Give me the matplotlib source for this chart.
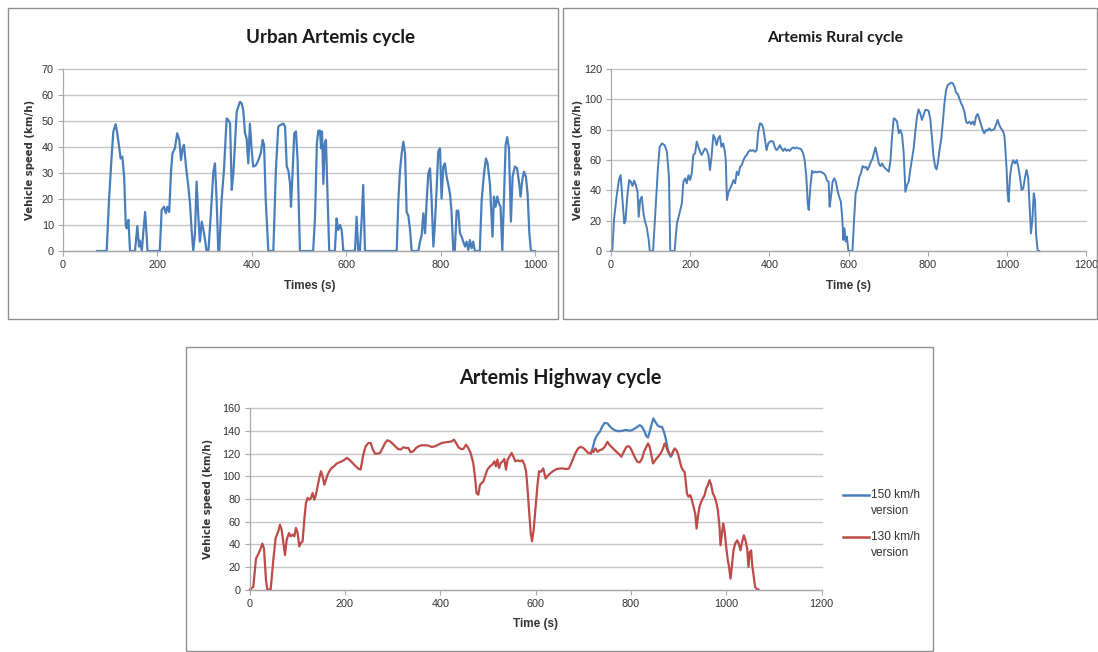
import matplotlib
matplotlib.use("Agg")
import matplotlib.pyplot as plt
from matplotlib.patches import Rectangle
from matplotlib.lines import Line2D
from matplotlib import font_manager

# ---------------- data ----------------
urban_t = [72, 92.5, 97.5, 103, 106.6, 111.5, 115, 119, 122, 125.7, 129.5, 133, 135, 138.6, 142,
           152.5, 157.5, 161, 163, 167, 170, 174, 177, 179, 205, 209, 214, 218, 221, 225, 229, 232,
           237, 242, 246.4, 250, 253.5, 256.3, 260.6, 265.5, 269, 272.5, 276, 279.6, 283, 286.7, 290,
           294, 297.5, 301, 304, 308, 311.5, 315, 318.5, 322, 325.5, 329, 331, 336, 341, 346.7, 350,
           354, 357.5, 361, 364.4, 368, 371.5, 375, 378.5, 382, 385.6, 389, 392.6, 396, 399.7, 403,
           409, 414, 419, 423, 426, 429.5, 435, 445.6, 451, 456, 461, 467, 470.5, 474, 477.4, 481,
           483, 486.6, 490, 493.6, 497, 502, 530, 534, 537.8, 541, 544.5, 546.6, 548.7, 551.6, 554.5,
           557, 560, 564, 576, 579.6, 583, 587, 590.4, 594, 618.6, 622, 625.6, 629, 633, 636, 639.8,
           707, 710.5, 714, 717.6, 721, 724.7, 728, 731.6, 735, 738.7, 752.8, 756.4, 760, 763.4, 767,
           770.6, 774, 777.6, 781, 784.7, 788, 791.8, 795, 798.7, 802, 805.8, 809, 812.7, 816, 819.8,
           823, 826.9, 830, 834, 837.6, 841, 844.6, 848, 851.7, 855, 858.7, 862, 865.7, 869, 872.8,
           883, 887, 892, 896, 899.6, 904.5, 908, 910, 913, 916.5, 920, 923.6, 927, 930.7, 934, 937.8,
           941, 944.8, 949, 952.5, 957.5, 962, 966.6, 969.4, 973, 976.5, 980.7, 984.3, 988, 991.5, 1000]
urban_v = [0, 0, 19.6, 36.3, 45.9, 48.8, 45.3, 40, 35.6, 36.3, 28.6, 10, 8.7, 12, 0,
           0, 9.6, 1.7, 4, 0, 6.8, 15, 6.8, 0, 0, 15.8, 17, 14.5, 17, 15, 31, 37.6,
           39.5, 45.3, 42.7, 35, 39.5, 40.8, 32.5, 24.8, 18.3, 8.1, 0, 6.8, 26.7, 13.2, 3.6,
           11.3, 8.1, 4.3, 0, 0, 9.4, 19.6, 30.5, 33.7, 19.6, 0, 0, 19.6, 31.1, 51, 50.4,
           49, 23.5, 30, 41.4, 53.6, 55.6, 57.4, 56.8, 54.2, 45.3, 43.3, 33.7, 49, 38.8, 32.5,
           33, 35, 37.6, 42.7, 40.8, 19.6, 0, 0, 31, 47.8, 48.5, 49, 47.8, 32.5, 31, 26,
           17, 31, 45.3, 46, 35, 0, 0, 13.2, 41.4, 46.3, 46.3, 39.5, 46, 25.8, 41.4,
           42.7, 24.8, 0, 0, 12.5, 8.1, 10, 8.1, 0, 0, 13.2, 0, 0, 13, 25.4, 0,
           0, 19.6, 31, 37.6, 42, 37.6, 15, 13.6, 8.7, 0, 0, 3.6, 6.2, 14.5, 6.8,
           19.6, 29.9, 31.8, 19.6, 1.7, 10.8, 24.8, 38.2, 39.5, 20.2, 32.5, 33.7, 28.6, 25.8, 22,
           15.5, 0, 0, 15.5, 15.5, 6.8, 5.5, 3.6, 1.7, 3.6, 0.4, 4.2, 1, 3.6, 0,
           0, 19.6, 29.9, 35.6, 33.7, 25.8, 13.2, 5.5, 20.9, 17, 20.9, 18.3, 17, 0, 19.6, 40.8,
           43.8, 39.5, 11.3, 28.6, 32.5, 31.8, 25.8, 20.9, 27.3, 30.5, 28.6, 22, 6.8, 0, 0]

rural_t = [0, 3.3, 7.5, 14, 20, 24.3, 28.4, 33.5, 36.8, 41, 46, 50, 54.4, 58.5, 62.7, 67, 70, 73.6,
           77.8, 82, 86, 90, 95.3, 98, 106.3, 110.4, 114.6, 118.8, 123, 128.8, 135.5, 141.3, 146.4,
           149.7, 160.6, 166.5, 173, 179, 183, 187.4, 191.5, 195.7, 199.9, 204, 208, 212.5, 216.6,
           220.8, 225, 229, 233, 237.6, 241.7, 246, 250, 254, 258.5, 262.6, 266.8, 271, 275, 279,
           283.5, 287.7, 290, 292.8, 297, 301, 305, 309.5, 313.6, 317.8, 322, 326, 330.4, 334.6,
           338.8, 343, 347, 351.3, 355.5, 359.7, 363.8, 368, 372, 376.4, 380.6, 384.7, 389, 393,
           397.3, 401.5, 405.7, 410, 414, 418, 422.5, 426.6, 430.8, 435, 439, 443.3, 447.5, 451.7,
           456, 460, 464.3, 468.5, 472.6, 476.8, 481, 485, 489.3, 493.5, 497, 499.5, 503.7, 507.9,
           512, 516, 520.4, 524.6, 528.8, 533, 537, 541.4, 545.6, 549.8, 552.3, 555.7, 559.8, 564,
           568, 572, 576.4, 580.6, 584, 587, 589.8, 593, 595.6, 600, 610, 614, 618, 623, 627.4,
           631.5, 635.7, 640, 644, 648, 652.5, 656.6, 660.8, 665, 668, 672.4, 676.6, 680.8, 685,
           689, 693.4, 697.6, 701.8, 706, 710, 714.3, 718.5, 722.7, 726.8, 731, 735.3, 739.5, 743.7,
           748, 752, 756, 760.5, 764.6, 768.8, 773, 777, 781.3, 785.5, 789.7, 794, 798, 802.2,
           806.4, 810.6, 814.8, 819, 822.3, 825.6, 829.8, 834, 838, 842.4, 846.6, 850.8, 855, 859,
           863.4, 867.6, 871.8, 876, 880, 884.4, 888.6, 892.8, 897, 901, 905.4, 909.6, 913.8, 918,
           922.2, 926.4, 930.6, 934.8, 939, 943, 947.4, 951.6, 955.8, 960, 964, 968.3, 972.5, 976.8,
           981, 985, 989.4, 993.6, 996, 999.5, 1002, 1004.6, 1008, 1012, 1016, 1020.6, 1025, 1029,
           1033, 1037.4, 1041.6, 1046, 1050, 1054, 1057.7, 1061, 1064.5, 1068, 1071.2, 1073.7,
           1078, 1082]
rural_v = [0, 0, 20.4, 35.8, 46.8, 50, 35.8, 18.2, 20.4, 35.8, 46.8, 45.7, 42.9, 46.4, 43.5, 39,
           22.6, 33.6, 35.8, 24.8, 19.3, 16, 7.3, 0, 0, 18.2, 37.9, 55.5, 68.7, 70.9, 69.8, 65.4,
           48.9, 0, 0, 18.2, 24.8, 31.4, 45.7, 47.9, 44.6, 50, 46.8, 51.2, 63.3, 64.4, 72.1, 68.7,
           65.4, 63.3, 65.4, 67.6, 66.5, 63.3, 53.4, 62.2, 76.5, 74.3, 69.8, 74.3, 75.9, 68.7,
           70.9, 65.4, 59.9, 33.6, 39, 41.3, 43.5, 46.8, 44.6, 52.3, 50, 55.5, 56.6, 59.9, 62.2,
           63.3, 65.4, 66.5, 66, 66.5, 65.4, 66.5, 78.7, 84.2, 83.7, 80.9, 73.2, 66.5, 70.9, 72.1,
           72.5, 72.1, 68.3, 66.5, 67.6, 69.8, 67.6, 66, 67.6, 66, 66.9, 66, 67.6, 68.3, 67.6,
           68.3, 67.6, 67.6, 66.9, 64.7, 59.9, 48.9, 31.4, 27, 42.4, 52.9, 51.6, 52.3, 51.8, 52.3,
           52.3, 51.8, 51.2, 50, 46.4, 45.7, 29.2, 35.8, 45.7, 47.9, 45.7, 40.2, 35.8, 32.5, 22.6,
           7.3, 15, 6.2, 9.5, 0, 0, 20.4, 38, 42.4, 48.9, 51.2, 56, 55, 55.5, 53.4, 56, 58.8, 61,
           65.4, 68.3, 63.3, 57.7, 56, 57.7, 55.5, 54.4, 53.4, 52.3, 59.9, 75.3, 87.5, 86.8, 85.3,
           77.6, 79.8, 76.5, 64.4, 39, 43.5, 45.7, 53.4, 61, 67.6, 78.7, 88.6, 93.4, 90.8, 86.4,
           89.7, 93, 93, 92.5, 87.5, 75.3, 62.2, 55.5, 53.8, 57.7, 66.5, 73.2, 84.2, 97.4, 106.2,
           109.5, 110.1, 111, 110.6, 108.4, 104.4, 103.5, 100.6, 97.4, 95.2, 91.9, 85.3, 84.2, 85.3,
           83.7, 85.3, 83.1, 88.6, 90.4, 86.8, 83.1, 79.8, 77.6, 79.8, 79.4, 80.9, 79.4, 79.8, 80.3,
           83.1, 86.4, 83.1, 80.9, 79.4, 76.5, 68.7, 53.4, 38, 32.5, 48.9, 56.6, 59.9, 57.7, 59.9,
           55.5, 48.9, 40.2, 41.3, 48.9, 53.4, 47.9, 29.2, 11.6, 20.4, 38, 33.6, 11.6, 0, 0]

hw_t = [0.6, 7.6, 13.2, 18, 23, 26.5, 30, 34.2, 37, 44, 49.6, 54.5, 60, 63.5, 67, 70.6, 74, 77.6,
        82.5, 86, 90, 93.7, 97, 100.6, 104, 107.6, 111, 114.6, 118, 121.6, 125, 128.6, 132, 135.6,
        139, 142.6, 146, 149.6, 153, 156.6, 160, 163.6, 167, 172, 176.9, 182.5, 188, 193.7, 199.3,
        203.4, 209, 214.6, 221, 228, 232.8, 238.4, 243.4, 249, 254, 258, 263, 268, 273.4, 279, 284,
        288.8, 294.4, 300, 305.6, 311.2, 316.8, 322.4, 328, 333, 337.7, 343.4, 349, 354.6, 361, 368,
        375, 382, 389, 396, 403, 410, 417, 424, 428.7, 433, 438, 443.4, 448.3, 454, 458.7, 463.6,
        469.2, 472.7, 476, 479.8, 483.3, 486.8, 490.3, 493.8, 498.7, 504.3, 509.2, 513.4, 516.9,
        519.8, 523.2, 526.7, 531, 534.3, 537.8, 541.3, 546.2, 549.7, 553.2, 557.5, 562.4, 567.3,
        572.2, 576.4, 580, 582.7, 586.2, 589.7, 592.5, 596, 599.5, 603.7, 607.2, 611, 616, 621,
        626.5, 632, 637.7, 644, 651, 658, 665, 670, 674, 679, 683.8, 689.3, 694, 700, 704.7, 710,
        716, 718.7, 721.5, 725.6, 730, 734.7, 739.6, 745, 750.8, 755.6, 760.5, 766, 770, 775, 780,
        785, 790.6, 795.4, 799.6, 804.5, 809.4, 813.6, 818.5, 823.4, 827.5, 832.4, 836, 839.4, 843,
        846.4, 851.3, 857, 862.4, 867.4, 870.8, 874.3, 877.8, 881.3, 884.8, 888.3, 891.8, 895.3,
        898.7, 902.2, 905.7, 909.2, 912.7, 914.8, 917.6, 921, 924.6, 928, 931.6, 935, 937.8, 940.6,
        944, 947.6, 951, 954.6, 958, 961.6, 965, 968.5, 972, 975.5, 979, 982.5, 986, 988, 991,
        993.7, 996.5, 1000, 1003.4, 1006, 1009, 1011.8, 1015.3, 1018.8, 1023, 1026.5, 1030, 1033.5,
        1037, 1040.5, 1044, 1046.8, 1049.5, 1052.3, 1055, 1058, 1060.7, 1065, 1067.7]
hw_v130 = [0, 2.4, 27.4, 31.2, 36.2, 40.6, 36.2, 8.2, 0, 0, 26.4, 45.5, 51.4, 57.3, 52.9, 41.2, 30.5,
           44, 49.9, 47, 48.5, 47, 54.4, 49.9, 38.1, 41.2, 42.6, 61.7, 76.5, 80.9, 79.4, 80.9, 85.3,
           79.4, 83.8, 91.2, 98.6, 104.5, 100, 92.6, 97, 101.5, 104.5, 107.4, 108.9, 111.3, 112.4,
           113.3, 114.8, 116.3, 114.8, 112.4, 109.5, 106.8, 106, 119.2, 126.6, 129.5, 129.5, 124.2,
           120.1, 120.1, 120.7, 125.1, 129.5, 131.9, 131, 128.9, 126.6, 124.2, 123.7, 125.7, 125.1,
           125.1, 121.3, 122.2, 125.1, 126.6, 127.5, 127.5, 127.2, 126, 126.6, 128, 129.5, 130.1,
           130.4, 131, 132.5, 129.5, 125.7, 124.2, 124.2, 128, 125.1, 120.7, 111.8, 100, 85.3, 83.8,
           92.6, 94.1, 95.6, 100, 105.9, 108.9, 110.4, 113.3, 108.9, 114.8, 107.4, 111.8, 113.3,
           115.4, 106, 114.8, 118.3, 120.7, 117.7, 113.3, 114.2, 113.3, 114.2, 110.4, 104.5, 91.2,
           70.6, 50, 42.6, 52.9, 70.6, 91.2, 104.5, 104, 107, 98.2, 101, 103.2, 104.9, 106.4, 107,
           107, 106.4, 107, 110.8, 115.8, 120.8, 124.7, 126.1, 125.2, 123.2, 120.8, 120.2, 123.2,
           121.7, 124.7, 121.7, 123.2, 123.8, 126.1, 130.5, 127.6, 125.5, 123.2, 121.7, 119.7, 117.3,
           121.7, 126.1, 126.7, 124.7, 120.2, 115.8, 112.9, 112.3, 115.8, 121.7, 126.1, 129.1, 126.1,
           118.8, 111.4, 114.4, 117.3, 120.2, 124.7, 129.1, 126.1, 121.7, 119.7, 118.8, 121.7, 124.7,
           123.2, 120.2, 114.4, 108.5, 105.5, 104, 96.7, 84.9, 82, 83.4, 79, 73.1, 67.2, 53.9, 64.3,
           73.1, 77.5, 80.5, 83.4, 89.3, 92.3, 96.7, 92.3, 84.9, 82, 77.5, 70.1, 55.3, 39.1, 49.5,
           58.3, 52.4, 37.6, 25.8, 19.9, 9.6, 19.9, 34.6, 40.5, 43.5, 40.5, 34.6, 42, 47.9, 43.5,
           36.1, 19.9, 33.1, 34.6, 19.9, 11, 2.2, 0, 0]

hw_t150 = [716, 718.7, 724, 729, 734.7, 739.6, 745, 750.8, 755.6, 760.5, 766, 771.7, 776.6, 781.5,
           787, 792, 797.5, 802.4, 808, 813.6, 818.5, 823.4, 829, 832.4, 836, 839.4, 843, 847, 851.3,
           855.5, 860.4, 865.2, 869.4, 873, 876.4, 880, 883.4, 886.2, 888.3]
hw_v150 = [120.2, 123.2, 132, 136.4, 139.4, 143.8, 147.3, 146.8, 144.4, 142.3, 140.9, 140, 140, 140.3,
           140.9, 140.9, 140.3, 140.9, 142.3, 143.8, 145.3, 143.8, 139.4, 135.5, 134.4, 139.4, 145.3,
           151.2, 148.2, 145.3, 143.8, 143.8, 139.4, 133.5, 126.1, 120.2, 117.3, 118.8, 121.7]

titles = ["Urban Artemis cycle", "Artemis Rural cycle", "Artemis Highway cycle"]
xlabels = ["Times (s)", "Time (s)", "Time (s)"]
ylabel = "Vehicle speed (km/h)"
legend_labels = ["150 km/h\nversion", "130 km/h\nversion"]

# ---------------- style ----------------
W, H = 1098, 652
BLUE = "#4A7EBB"
RED = "#BE4B48"
GRID = "#C6C6C6"
TXT = "#333333"

avail = {f.name for f in font_manager.fontManager.ttflist}
NARROW = "Liberation Sans Narrow" if "Liberation Sans Narrow" in avail else "Liberation Sans"
TITLEF = "Lato" if "Lato" in avail else "DejaVu Sans"

fig = plt.figure(figsize=(W / 100, H / 100), dpi=100)
fig.patch.set_facecolor("white")


def fx(px):
    return px / W


def fy(py):
    return 1 - py / H


def panel(l, t, r, b):
    fig.patches.append(Rectangle((fx(l), fy(b)), fx(r) - fx(l), fy(t) - fy(b),
                                 transform=fig.transFigure, fill=False,
                                 edgecolor="#8F8F8F", linewidth=1.0, zorder=0))


def make_axes(l, t, r, b, xlim, ylim, xticks, yticks, ylab_x):
    ax = fig.add_axes([fx(l), fy(b), fx(r) - fx(l), fy(t) - fy(b)])
    ax.set_xlim(*xlim)
    ax.set_ylim(*ylim)
    ax.set_xticks(xticks)
    ax.set_yticks(yticks)
    ax.grid(axis="y", color=GRID, linewidth=1.0)
    for gl in ax.get_ygridlines():
        gl.set_clip_on(False)
    ax.set_axisbelow(True)
    for s in ["top", "right"]:
        ax.spines[s].set_visible(False)
    for s in ["left", "bottom"]:
        ax.spines[s].set_color("#A8A8A8")
        ax.spines[s].set_linewidth(0.9)
    ax.tick_params(axis="both", direction="out", length=3.5, width=0.8, color="#A8A8A8",
                   labelsize=7.8, labelcolor=TXT, pad=3)
    for lab in ax.get_xticklabels() + ax.get_yticklabels():
        lab.set_fontfamily(NARROW)
    # y-axis title, centred on the plot area at a fixed pixel column
    fig.text(fx(ylab_x), fy((t + b) / 2), ylabel, rotation=90, ha="center", va="center",
             fontsize=7.3, fontweight="bold", color=TXT, family="DejaVu Sans")
    return ax


# panel frames
panel(8, 8, 558, 319)
panel(563, 8, 1097, 319)
panel(186, 347, 933, 651)

# ---- Urban ----
ax1 = make_axes(63, 69, 557, 251, (0, 1046.6), (0, 70), range(0, 1001, 200), range(0, 71, 10), 30)
ax1.plot(urban_t, urban_v, color=BLUE, lw=1.6, clip_on=False)
ax1.set_xlabel(xlabels[0], fontsize=8.5, fontweight="bold", color=TXT, family=NARROW, labelpad=7)
fig.text(fx(330), fy(38), titles[0], ha="center", va="center", fontsize=13.5,
         fontweight="bold", color="#1a1a1a", family=TITLEF)

# ---- Rural ----
ax2 = make_axes(611, 69, 1086, 251, (0, 1200), (0, 120), range(0, 1201, 200), range(0, 121, 20), 578)
ax2.plot(rural_t, rural_v, color=BLUE, lw=1.4, clip_on=False)
ax2.set_xlabel(xlabels[1], fontsize=8.5, fontweight="bold", color=TXT, family=NARROW, labelpad=7)
fig.text(fx(835), fy(38), titles[1], ha="center", va="center", fontsize=11.3,
         fontweight="bold", color="#1a1a1a", family=TITLEF)

# ---- Highway ----
ax3 = make_axes(249.7, 408.5, 821.5, 589.5, (0, 1200), (0, 160), range(0, 1201, 200),
                range(0, 161, 20), 208)
ax3.plot(hw_t150, hw_v150, color=BLUE, lw=1.6, clip_on=False)
ax3.plot(hw_t, hw_v130, color=RED, lw=1.6, clip_on=False)
ax3.set_xlabel(xlabels[2], fontsize=8.5, fontweight="bold", color=TXT, family=NARROW, labelpad=7)
fig.text(fx(560), fy(378), titles[2], ha="center", va="center", fontsize=14.2,
         fontweight="bold", color="#1a1a1a", family=TITLEF)

# legend (Excel-style, placed beside the plot area)
for (lab, col, ly) in [(legend_labels[0], BLUE, 495), (legend_labels[1], RED, 537)]:
    fig.lines.append(Line2D([fx(843), fx(869)], [fy(ly), fy(ly)], transform=fig.transFigure,
                            color=col, lw=1.8))
    fig.text(fx(871), fy(ly - 6.5), lab, ha="left", va="top", fontsize=8.6, family=NARROW,
             color=TXT, linespacing=1.45)

fig.savefig("out.png", dpi=100, facecolor="white")
